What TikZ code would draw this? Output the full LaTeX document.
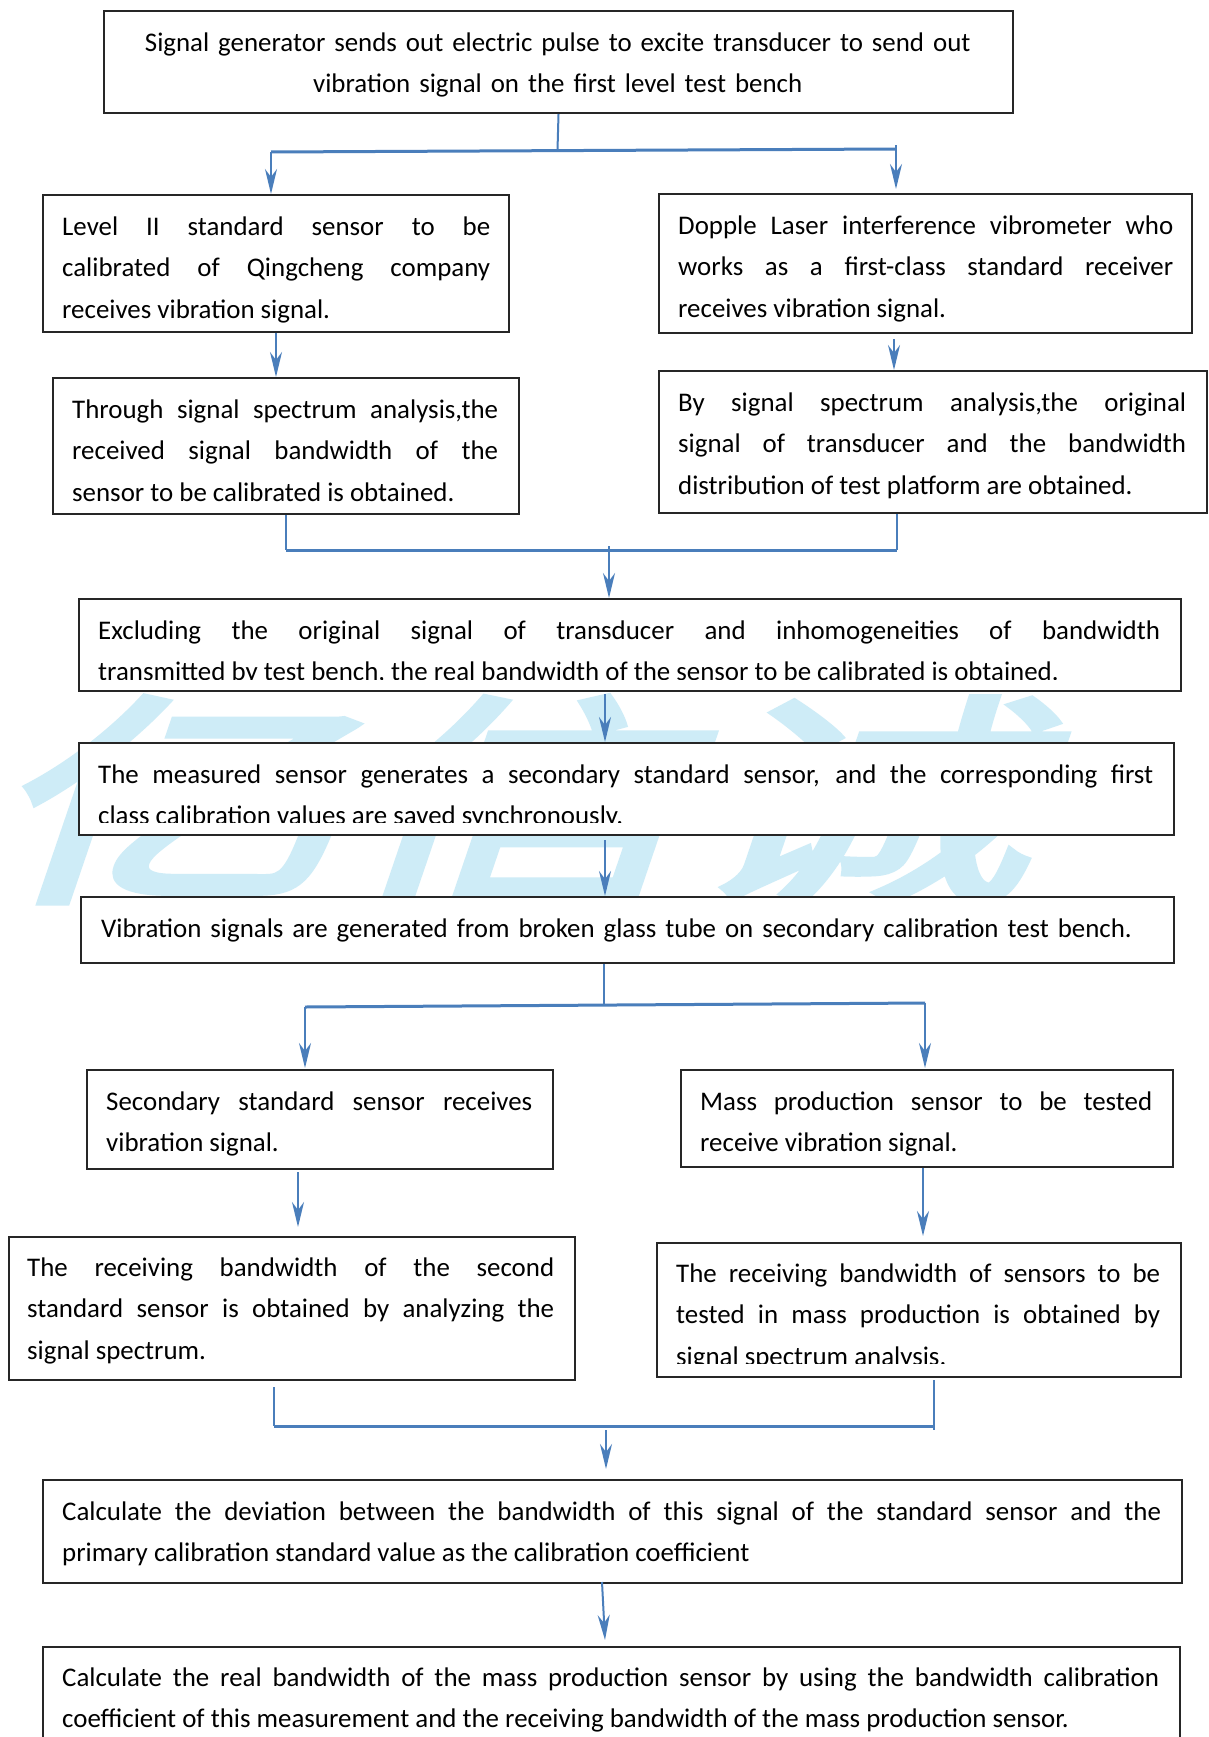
\documentclass[tikz,border=0pt]{standalone}
\usepackage{fontspec}
\setmainfont{Carlito}
\newfontfamily\cjk[FakeBold=2.5]{Noto Sans CJK SC}
\usetikzlibrary{arrows.meta}
\definecolor{connblue}{RGB}{74,126,187}
\definecolor{wmark}{RGB}{206,236,247}
\tikzset{
  box/.style={draw=black!85, line width=2pt, fill=white, inner sep=0pt, anchor=north west},
  sz/.style 2 args={minimum width=#1pt, minimum height=#2pt},
  txt/.style={anchor=north west, inner sep=0pt, text width=#1pt, align=justify,
    font=\fontsize{26.9}{41.6}\selectfont,
    execute at begin node={\tolerance=9999\hbadness=10000\hfuzz=3pt\relax}},
  conn/.style={draw=connblue, line width=2pt},
  hconn/.style={draw=connblue, line width=3pt},
  arr/.style={conn, -{Stealth[length=25pt,width=12pt,inset=8pt]}},
}
\begin{document}
\begin{tikzpicture}[x=1pt,y=-1pt]
\useasboundingbox (0,0) rectangle (1208,1737);
\clip (0,0) rectangle (1208,1737);
\fill[white] (0,0) rectangle (1208,1737);
% watermark
\node[text=wmark, inner sep=0pt, font=\cjk\fontsize{225}{225}\selectfont, xscale=1.55, xslant=0.22] (wm) at (535,800) {亿信诚};
% boxes
\node[box, sz={909}{102}] (b1) at (103,10) {};
\node[box, sz={466}{137}] (b2) at (42,194) {};
\node[box, sz={533}{139}] (b3) at (658,193) {};
\node[box, sz={466}{136}] (b4) at (52,377) {};
\node[box, sz={548}{142}] (b5) at (658,370) {};
\node[box, sz={1102}{92}] (b6) at (78,598) {};
\node[box, sz={1095}{92}] (b7) at (78,742) {};
\node[box, sz={1093}{66}] (b8) at (80,896) {};
\node[box, sz={466}{99}] (b9) at (86,1069) {};
\node[box, sz={492}{97}] (b10) at (680,1069) {};
\node[box, sz={566}{143}] (b11) at (8,1236) {};
\node[box, sz={524}{134}] (b12) at (656,1242) {};
\node[box, sz={1139}{103}] (b13) at (42,1479) {};
\node[box, sz={1137}{130}] (b14) at (42,1646) {};
% texts
\node[txt=869, align=center] (t1) at (123,21.9) {\strut Signal generator sends out electric pulse to excite transducer to send out\\vibration signal on the first level test bench};
\node[txt=428] (t2) at (62,205.9) {\strut Level II standard sensor to be\linebreak calibrated of Qingcheng company\linebreak receives vibration signal.};
\node[txt=495] (t3) at (678,204.9) {\strut Dopple Laser interference vibrometer who\linebreak works as a first-class standard receiver\linebreak receives vibration signal.};
\node[txt=426] (t4) at (72,388.9) {\strut Through signal spectrum analysis,the\linebreak received signal bandwidth of the\linebreak sensor to be calibrated is obtained.};
\node[txt=508] (t5) at (678,381.9) {\strut By signal spectrum analysis,the original\linebreak signal of transducer and the bandwidth\linebreak distribution of test platform are obtained.};
\begin{scope}
\clip (78,598) rectangle (1180,679);
\node[txt=1062] (t6) at (98,609.9) {\strut Excluding the original signal of transducer and inhomogeneities of bandwidth\linebreak transmitted by test bench, the real bandwidth of the sensor to be calibrated is obtained.};
\end{scope}
\begin{scope}
\clip (78,742) rectangle (1173,822);
\node[txt=1055] (t7) at (98,753.9) {\strut The measured sensor generates a secondary standard sensor, and the corresponding first\linebreak class calibration values are saved synchronously.};
\end{scope}
\node[txt=1060, align=left] (t8) at (101,907.9) {\strut Vibration signals are generated from broken glass tube on secondary calibration test bench.};
\node[txt=426] (t9) at (106,1080.9) {\strut Secondary standard sensor receives\linebreak vibration signal.};
\node[txt=452] (t10) at (700,1080.9) {\strut Mass production sensor to be tested\linebreak receive vibration signal.};
\node[txt=527] (t11) at (27,1246.9) {\strut The receiving bandwidth of the second\linebreak standard sensor is obtained by analyzing the\linebreak signal spectrum.};
\begin{scope}
\clip (656,1242) rectangle (1180,1363);
\node[txt=484] (t12) at (676,1252.9) {\strut The receiving bandwidth of sensors to be\linebreak tested in mass production is obtained by\linebreak signal spectrum analysis.};
\end{scope}
\node[txt=1099] (t13) at (62,1490.9) {\strut Calculate the deviation between the bandwidth of this signal of the standard sensor and the\linebreak primary calibration standard value as the calibration coefficient};
\node[txt=1097] (t14) at (62,1656.9) {\strut Calculate the real bandwidth of the mass production sensor by using the bandwidth calibration\linebreak coefficient of this measurement and the receiving bandwidth of the mass production sensor.};
% connectors: first split
\coordinate (s1C) at (557.5,150);
\coordinate (s1L) at (271,152);
\coordinate (s1R) at (896,149);
\coordinate (s1Rt) at (896,145);
\draw[conn] (b1.south) -- (s1C);
\draw[hconn] (s1L) -- (s1R);
\draw[arr] (s1L) -- (s1L |- b2.north);
\draw[arr] (s1Rt) -- ([yshift=4pt]s1Rt |- b3.north);
% left and right chains
\draw[arr] (b2.south) -- (b2.south |- b4.north);
\coordinate (r1o) at (894,339);
\draw[arr] (r1o) -- (r1o |- b5.north);
% first merge
\coordinate (m1L) at (286,550);
\coordinate (m1R) at (897,550);
\coordinate (m1C) at (609,546);
\draw[conn] (m1L |- b4.south) -- (m1L);
\draw[conn] (m1R |- b5.south) -- (m1R);
\draw[hconn] (m1L) -- (m1R);
\draw[arr] (m1C) -- (m1C |- b6.north);
% middle chain
\coordinate (a6) at (605,694);
\draw[arr] (a6) -- (a6 |- b7.north);
\coordinate (a7) at (605,840);
\draw[arr] (a7) -- (a7 |- b8.north);
% second split
\coordinate (s2C) at (604,1004);
\coordinate (s2L) at (305,1007);
\coordinate (s2R) at (925,1003);
\draw[conn] (s2C |- b8.south) -- (s2C);
\draw[hconn] (s2L) -- (s2R);
\draw[arr] (s2L) -- ([yshift=1pt]s2L |- b9.north);
\draw[arr] (s2R) -- ([yshift=1pt]s2R |- b10.north);
\coordinate (a9) at (298,1172);
\draw[arr] (a9) -- ([yshift=9pt]a9 |- b11.north);
\coordinate (a10) at (923,1168);
\draw[arr] (a10) -- ([yshift=6pt]a10 |- b12.north);
% second merge
\coordinate (m2L) at (274,1426);
\coordinate (m2R) at (934,1426);
\coordinate (m2Lt) at (274,1387);
\coordinate (m2Rt) at (934,1380);
\coordinate (m2Rb) at (934,1430);
\coordinate (m2C) at (606,1430);
\draw[conn] (m2Lt) -- (m2L);
\draw[conn] (m2Rt) -- (m2Rb);
\draw[hconn] (m2L) -- (m2R);
\draw[arr] (m2C) -- ([yshift=10pt]m2C |- b13.north);
\coordinate (a13) at (602,1582);
\coordinate (a13e) at (605,1640);
\draw[arr] (a13) -- (a13e);
\end{tikzpicture}
\end{document}
